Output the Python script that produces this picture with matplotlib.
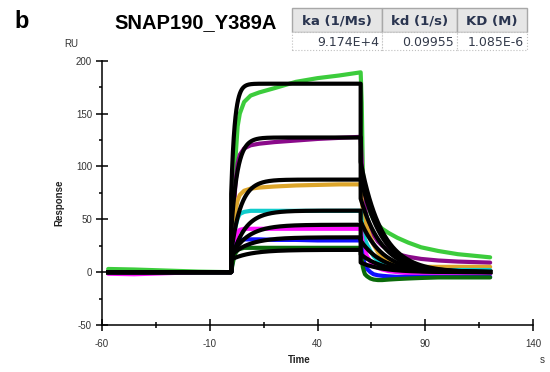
import numpy as np
import matplotlib.pyplot as plt
from matplotlib.patches import Rectangle
from matplotlib.ticker import FixedLocator

plt.rcParams['axes.unicode_minus'] = False

# kinetic constants shown in the table
ka = 9.174e4      # 1/Ms
kd = 0.09955      # 1/s
KD = 1.085e-6     # M
table_head = ["ka (1/Ms)", "kd (1/s)", "KD (M)"]
table_vals = ["9.174E+4", "0.09955", "1.085E-6"]

t = [-57, -45, -30, -15, -1, 0, 0.5, 1, 1.5, 2, 3, 4, 6, 9, 13, 20, 30, 40, 50, 60,
     60.5, 61, 61.5, 62, 63, 64.5, 66, 68, 70, 73, 77, 82, 88, 96, 105, 120]

green = [3, 2.5, 1.5, 0.5, 0, 0, 20, 55, 85, 108, 138, 150, 161, 167, 170, 174, 180, 183.5, 186, 189,
         160, 95, 84, 76, 65, 56, 50, 45, 41, 37, 32.5, 28, 23.5, 20, 17, 14]
purple = [0, 0, 0, 0, 0, 0, 20, 45, 68, 85, 103, 111, 117, 120, 121.5, 123, 124.5, 126, 127, 128,
          105, 80, 68, 60, 51, 42, 35, 29, 25, 21, 17, 14.5, 12.5, 11, 10, 9]
orange = [0, 0, 0, 0, 0, 0, 15, 32, 48, 58, 68, 73, 77, 79, 80, 81, 82, 82.5, 83, 83,
          68, 60, 55, 50, 42, 33, 26, 19, 14, 10, 6.5, 5, 5, 5, 5, 5]
cyan = [0, 0, 0, 0, 0, 0, 12, 25, 36, 43, 51, 55, 57, 58, 58, 58, 58, 58, 58, 58,
        48, 40, 35, 31, 26, 20, 15, 11, 8.5, 6, 4, 3, 2.5, 2, 2, 2]
magenta = [-1.5, -2, -1, 0, 0, 0, 10, 20, 28, 33, 38, 40, 41, 41, 41, 41, 41, 41, 41, 41,
           33, 27, 23, 20, 15, 10, 6.5, 4, 2.5, 1, 0, -1, -1.5, -1.5, -1.5, -1.5]
blue = [0, 0, 0, 0, 0, 0, 8, 15, 20, 24, 28, 30, 31, 31, 31, 30.5, 30.5, 30, 30, 30,
        20, 14, 10, 7, 3, 0, -2, -3, -3.5, -4, -4.5, -4.5, -4.5, -4.5, -4.5, -4.5]
dkgreen = [0, 0, 0, 0, 0, 0, 6, 11, 15, 18, 21, 22, 23, 23, 23, 23, 23, 23, 23, 23,
           12, 5, 1, -2, -4, -6, -7, -7.5, -7.5, -7, -6.5, -6, -5.5, -5, -5, -5]

series = [green, purple, orange, cyan, magenta, blue, dkgreen]
colors = ["#3ccc3c", "#8a0a8a", "#dca52a", "#10cccc", "#ff10ff", "#1010ff", "#0a6a0a"]

# 1:1 fit: analyte concentrations (uM), Rmax and bulk (RI) jump per curve
conc_uM = [5.45, 2.72, 1.36, 0.68, 0.34, 0.17, 0.085]
Rmax = 125
ri = [74, 38, 18, 10, 15, 16, 12]
t_inj, t_end, t_stop = 0, 60, 120

fig = plt.figure(figsize=(5.5, 3.72), dpi=100)
ax = fig.add_axes([101.7 / 550, 1 - 325 / 372, (533.3 - 101.7) / 550, (325 - 60.7) / 372])

for y, c in zip(series, colors):
    ax.plot(t, y, color=c, lw=3, solid_joinstyle="round", solid_capstyle="round", zorder=2)

# fitted curves
for C, r in zip(conc_uM, ri):
    C = C * 1e-6
    req = Rmax * C / (C + KD)
    kobs = ka * C + kd
    ta = np.linspace(t_inj, t_end, 300)
    ra = req * (1 - np.exp(-kobs * (ta - t_inj))) + r
    r60 = req * (1 - np.exp(-kobs * (t_end - t_inj)))
    td = np.linspace(t_end, t_stop, 300)
    rd = r60 * np.exp(-kd * (td - t_end))
    tt = np.concatenate([[-57, t_inj], ta, td])
    rr = np.concatenate([[0, 0], ra, rd])
    ax.plot(tt, rr, color="black", lw=3, solid_joinstyle="round", zorder=3)

ax.set_xlim(-60, 140)
ax.set_ylim(-50, 200)
ax.set_xticks([-60, -10, 40, 90, 140])
ax.set_yticks([-50, 0, 50, 100, 150, 200])
ax.xaxis.set_minor_locator(FixedLocator([-35, 15, 65, 115]))
ax.yaxis.set_minor_locator(FixedLocator([-25, 25, 75, 125, 175]))
for s in ["top", "right"]:
    ax.spines[s].set_visible(False)
for s in ["left", "bottom"]:
    ax.spines[s].set_linewidth(1.1)
ax.tick_params(axis="both", which="major", direction="inout", length=8, width=1.1,
               labelsize=7, labelcolor="#333333", pad=3)
ax.tick_params(axis="x", which="major", pad=6)
ax.tick_params(axis="x", which="minor", direction="inout", length=4, width=1.1)
ax.tick_params(axis="y", which="minor", direction="out", length=2.5, width=1.1)
for lab in ax.get_xticklabels() + ax.get_yticklabels():
    lab.set_family("Liberation Sans")

def fx(x):
    return x / 550

def fy(y):
    return 1 - y / 372

font = "Liberation Sans"
fig.text(fx(59), fy(203), "Response", rotation=90, ha="center", va="center",
         fontsize=7, fontweight="bold", family=font, color="#222222")
fig.text(fx(299), fy(360), "Time", ha="center", va="center",
         fontsize=7, fontweight="bold", family=font, color="#222222")
fig.text(fx(542), fy(360), "s", ha="center", va="center", fontsize=7, family=font, color="#333333")
fig.text(fx(71), fy(44), "RU", ha="center", va="center", fontsize=7, family=font, color="#333333")

fig.text(fx(14), fy(28), "b", ha="left", va="baseline", fontsize=17, fontweight="bold", family=font)
fig.text(fx(114), fy(28), "SNAP190_Y389A", ha="left", va="baseline", fontsize=14.5,
         fontweight="bold", family=font)

# parameter table
cols = [292, 382, 457, 527]
y0, y1, y2 = 8, 32, 50
for i in range(3):
    fig.patches.append(Rectangle((fx(cols[i]), fy(y1)), fx(cols[i + 1] - cols[i]), y1 / 372 - y0 / 372,
                                 transform=fig.transFigure, facecolor="#e6e6e6",
                                 edgecolor="#a8a8a8", lw=1))
    fig.patches.append(Rectangle((fx(cols[i]), fy(y2)), fx(cols[i + 1] - cols[i]), y2 / 372 - y1 / 372,
                                 transform=fig.transFigure, facecolor="white",
                                 edgecolor="#c0c0c0", lw=0.8, ls=":"))
    fig.text(fx((cols[i] + cols[i + 1]) / 2), fy((y0 + y1) / 2 + 1), table_head[i], ha="center",
             va="center", fontsize=9.5, fontweight="bold", color="#2a3550", family="DejaVu Sans")
    fig.text(fx(cols[i + 1] - 3), fy((y1 + y2) / 2 + 1), table_vals[i], ha="right",
             va="center", fontsize=9, color="#333a4a", family="DejaVu Sans")

fig.savefig("out.png", dpi=100)
